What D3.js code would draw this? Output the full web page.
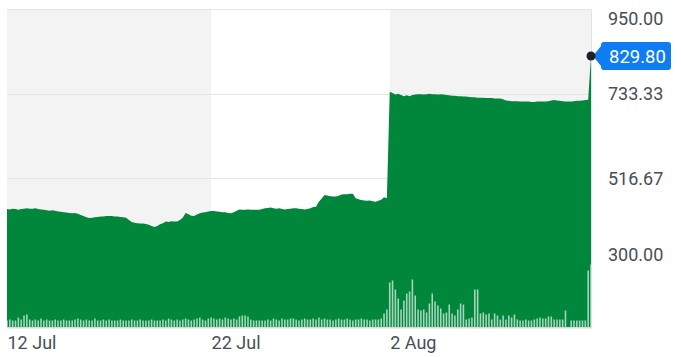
<!DOCTYPE html>
<html>
<head>
<meta charset="utf-8">
<script src="https://cdn.jsdelivr.net/npm/d3@7"></script>
<style>
  html, body { margin: 0; padding: 0; background: #fff; }
  svg { display: block; }
  text { font-family: Roboto, "Liberation Sans", Arial, sans-serif; }
</style>
</head>
<body>
<svg id="chart" width="681" height="357"></svg>
<script>
// ---- data ----
const dateTicks = [
  { index: 0, label: "12 Jul" },
  { index: 72, label: "22 Jul" },
  { index: 135, label: "2 Aug" }
];
const priceTicks = [950.00, 733.33, 516.67, 300.00];
const lastPrice = 829.80;

// closing price per bar (9 bars per trading day)
const prices = [
  438, 437, 439, 438, 436, 438, 439, 440, 439,
  439, 440, 438, 437, 436, 435, 434, 435, 434,
  432, 431, 430, 429, 428, 427, 428, 426, 423,
  420, 417, 415, 416, 417, 418, 419, 419, 420,
  420, 420, 419, 419, 418, 417, 416, 410, 405,
  403, 402, 401, 401, 400, 398, 395, 392, 395,
  399, 402, 406, 405, 407, 406, 406, 410, 416,
  428, 425, 421, 420, 424, 427, 429, 430, 432,
  433, 433, 432, 431, 430, 430, 428, 427, 430,
  434, 437, 436, 436, 437, 436, 436, 436, 436,
  438, 440, 441, 442, 440, 439, 440, 438, 437,
  438, 439, 440, 440, 439, 438, 437, 438, 440,
  443, 444, 457, 465, 474, 473, 471, 470, 470,
  472, 475, 476, 476, 477, 477, 466, 463, 461,
  460, 459, 460, 458, 457, 459, 462, 468, 466,
  738, 735, 731, 733, 730, 727, 729, 727, 730,
  731, 732, 732, 731, 732, 733, 732, 732, 731,
  732, 731, 730, 729, 728, 728, 727, 727, 726,
  726, 725, 724, 724, 723, 723, 723, 722, 722,
  722, 721, 721, 721, 719, 716, 715, 714, 714,
  714, 713, 713, 713, 713, 712, 712, 713, 713,
  713, 713, 714, 716, 717, 716, 715, 714, 713,
  713, 713, 714, 715, 715, 716, 717, 718, 829.8
];

// volume per bar (100k shares)
const volumes = [
  7, 8, 7, 7, 10, 8, 12, 13, 8,
  7, 8, 7, 9, 7, 8, 7, 7, 8,
  7, 7, 8, 7, 7, 7, 8, 9, 8,
  7, 8, 7, 7, 9, 7, 7, 8, 7,
  8, 7, 7, 7, 8, 7, 7, 7, 8,
  7, 7, 8, 7, 7, 7, 8, 7, 7,
  7, 8, 7, 9, 8, 7, 8, 7, 8,
  9, 8, 7, 8, 9, 10, 8, 7, 9,
  10, 9, 8, 9, 8, 10, 9, 8, 9,
  8, 11, 12, 12, 11, 8, 7, 7, 7,
  7, 7, 8, 7, 9, 8, 7, 9, 8,
  8, 9, 9, 8, 7, 8, 9, 8, 8,
  9, 8, 10, 8, 9, 8, 8, 7, 8,
  9, 8, 8, 9, 8, 7, 8, 8, 9,
  8, 8, 7, 8, 8, 8, 9, 14, 18,
  45, 47, 38, 29, 18, 27, 34, 36, 48,
  32, 18, 17, 18, 15, 24, 34, 26, 22,
  19, 14, 15, 23, 14, 12, 18, 24, 23,
  8, 9, 10, 38, 38, 14, 15, 13, 14,
  8, 14, 12, 8, 12, 8, 12, 10, 13,
  8, 7, 7, 8, 7, 7, 8, 9, 10,
  9, 9, 11, 11, 8, 8, 8, 8, 17,
  0, 7, 7, 7, 7, 7, 7, 57, 63
];

// ---- layout ----
const svg = d3.select("#chart");
const plot = { left: 7, right: 591, top: 9, bottom: 327.5 };
const N = prices.length;

const x = d3.scaleLinear().domain([0, N - 1]).range([plot.left, plot.right]);
const y = d3.scaleLinear().domain([300, 950]).range([263, 9]);
const yVol = d3.scaleLinear().domain([0, 70]).range([plot.bottom, plot.bottom - 70]);

const green = "#00873c";
const textColor = "#464e56";

svg.append("defs").append("clipPath").attr("id", "clip")
  .append("rect")
  .attr("x", plot.left).attr("y", plot.top)
  .attr("width", plot.right - plot.left).attr("height", plot.bottom - plot.top);

// alternating day-range bands
const bandEdges = dateTicks.map(d => x(d.index)).concat([plot.right]);
for (let i = 0; i < bandEdges.length - 1; i++) {
  if (i % 2 === 0) {
    svg.append("rect")
      .attr("x", bandEdges[i]).attr("y", plot.top)
      .attr("width", bandEdges[i + 1] - bandEdges[i])
      .attr("height", plot.bottom - plot.top)
      .attr("fill", "#f3f3f3");
  }
}

// gridlines
svg.append("g").selectAll("line").data(priceTicks).join("line")
  .attr("x1", plot.left).attr("x2", plot.right)
  .attr("y1", d => Math.round(y(d)) + 0.5).attr("y2", d => Math.round(y(d)) + 0.5)
  .attr("stroke", "#e6e6e6").attr("stroke-width", 1);

// right border
svg.append("line")
  .attr("x1", plot.right + 0.5).attr("x2", plot.right + 0.5)
  .attr("y1", plot.top).attr("y2", plot.bottom)
  .attr("stroke", "#e2e2e8");

// price area
const area = d3.area()
  .x((d, i) => x(i))
  .y0(plot.bottom)
  .y1(d => y(d));
svg.append("path")
  .datum(prices)
  .attr("clip-path", "url(#clip)")
  .attr("d", area)
  .attr("fill", green);

// volume bars
const step = x(1) - x(0);
const barW = step * 0.55;
svg.append("g").attr("clip-path", "url(#clip)")
  .selectAll("rect").data(volumes).join("rect")
  .attr("x", (d, i) => x(i) - barW / 2)
  .attr("y", d => yVol(d))
  .attr("width", barW)
  .attr("height", d => plot.bottom - yVol(d))
  .attr("fill", "#ffffff")
  .attr("fill-opacity", 0.65);

// bottom axis line
svg.append("line")
  .attr("x1", plot.left).attr("x2", plot.right + 1)
  .attr("y1", plot.bottom + 0.5).attr("y2", plot.bottom + 0.5)
  .attr("stroke", "#dcdcdc");

// x-axis labels
svg.append("g").selectAll("text").data(dateTicks).join("text")
  .attr("x", d => x(d.index) + 0.5)
  .attr("y", 349)
  .attr("font-size", 18)
  .attr("fill", textColor)
  .text(d => d.label);

// y-axis labels (clamped inside plot)
svg.append("g").selectAll("text").data(priceTicks).join("text")
  .attr("x", 608)
  .attr("y", d => Math.max(19, Math.min(255, y(d))))
  .attr("dy", "0.36em")
  .attr("font-size", 18)
  .attr("fill", textColor)
  .text(d => d.toFixed(2));

// last price marker
const lx = x(N - 1), ly = y(lastPrice);
const tagTop = ly - 14, tagBot = ly + 14, tagL = lx + 10, tagR = 671;
const r = 3;
const tagPath = `M${lx + 2},${ly} L${tagL},${tagTop + 4} L${tagL},${tagTop + r}` +
  ` Q${tagL},${tagTop} ${tagL + r},${tagTop} L${tagR - r},${tagTop} Q${tagR},${tagTop} ${tagR},${tagTop + r}` +
  ` L${tagR},${tagBot - r} Q${tagR},${tagBot} ${tagR - r},${tagBot} L${tagL + r},${tagBot} Q${tagL},${tagBot} ${tagL},${tagBot - r}` +
  ` L${tagL},${tagBot - 4} Z`;
svg.append("path").attr("d", tagPath).attr("fill", "#0f7df2");
svg.append("text")
  .attr("x", 609).attr("y", ly).attr("dy", "0.36em")
  .attr("font-size", 18.5)
  .attr("fill", "#ffffff")
  .text(lastPrice.toFixed(2));
svg.append("circle")
  .attr("cx", lx).attr("cy", ly).attr("r", 4.5)
  .attr("fill", "#1d2228");
</script>
</body>
</html>
